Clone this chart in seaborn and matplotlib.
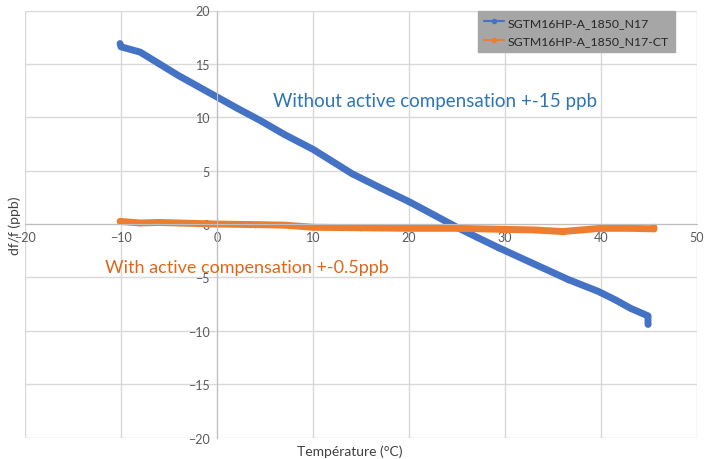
import pandas as pd
import matplotlib
matplotlib.use("Agg")
import matplotlib.pyplot as plt
import seaborn as sns

# Series
temp_ref = [-10.1, -10.0, -8.0, -6.0, -4.0, -2.0, 0.0, 2.0, 4.5, 7.0, 10.0, 14.1, 17.0,
            20.0, 22.5, 25.2, 27.0, 29.3, 32.7, 36.6, 39.7, 41.5, 43.1, 44.9, 44.9]
dff_ref = [16.9, 16.6, 16.1, 15.0, 13.9, 12.9, 11.9, 10.9, 9.7, 8.4, 7.0, 4.7, 3.4,
           2.1, 0.9, -0.4, -1.2, -2.2, -3.6, -5.2, -6.3, -7.1, -7.9, -8.6, -9.4]

temp_ct = [-10.1, -8.0, -6.0, -4.0, -2.0, 0.0, 4.0, 7.0, 10.0, 15.0, 20.0, 25.0,
           30.0, 33.0, 36.0, 38.0, 40.0, 43.0, 45.5, 45.5]
dff_ct = [0.25, 0.1, 0.15, 0.1, 0.05, 0.0, -0.05, -0.1, -0.3, -0.35, -0.4, -0.4,
          -0.5, -0.55, -0.7, -0.55, -0.4, -0.4, -0.45, -0.3]

series_names = ["SGTM16HP-A_1850_N17", "SGTM16HP-A_1850_N17-CT"]
palette = ["#4472c4", "#ed7d31"]

df = pd.concat([
    pd.DataFrame({"temp": temp_ref, "dff": dff_ref, "series": series_names[0]}),
    pd.DataFrame({"temp": temp_ct, "dff": dff_ct, "series": series_names[1]}),
], ignore_index=True)

sns.set_style("white")
plt.rcParams["font.family"] = ["Lato", "DejaVu Sans"]

fig = plt.figure(figsize=(7.04, 4.60), dpi=100)
ax = fig.add_axes([0.0355, 0.0465, 0.9545, 0.9285])

sns.lineplot(data=df, x="temp", y="dff", hue="series", palette=palette,
             estimator=None, sort=False, linewidth=5, marker="o",
             markersize=4, markeredgewidth=0, ax=ax)

ax.set_xlim(-20, 50)
ax.set_ylim(-20, 20)
ax.set_xticks(range(-20, 51, 10))
ax.set_yticks(range(-20, 21, 5))
ax.grid(True, color="#d9d9d9", linewidth=1)
ax.set_axisbelow(True)

# axes cross at zero like the spreadsheet chart
ax.spines["left"].set_position(("data", 0))
ax.spines["bottom"].set_position(("data", 0))
ax.spines["left"].set_color("#bfbfbf")
ax.spines["bottom"].set_color("#bfbfbf")
ax.spines["top"].set_visible(False)
ax.spines["right"].set_visible(False)
ax.tick_params(axis="y", length=4, color="#bfbfbf", labelsize=9,
               labelcolor="#595959", pad=1)
ax.tick_params(axis="x", length=0, labelsize=9, labelcolor="#595959", pad=5)

ax.set_xlabel("")
ax.set_ylabel("")
fig.text(0.497, 0.017, "Température (°C)", ha="center", va="center",
         fontsize=10, color="#404040")
fig.text(0.021, 0.51, "df/f (ppb)", ha="center", va="center", rotation=90,
         fontsize=10, color="#404040")

ax.text(5.8, 11.6, "Without active compensation +-15 ppb", color="#2e75b6",
        fontsize=13.5, va="center")
ax.text(-11.7, -4.0, "With active compensation +-0.5ppb", color="#e0661c",
        fontsize=13, va="center")

leg = ax.legend(loc="upper right", bbox_to_anchor=(0.967, 1.0), fontsize=8.8,
                frameon=True, fancybox=False, framealpha=1, borderpad=0.5,
                handlelength=1.6, handletextpad=0.3, labelspacing=0.6,
                borderaxespad=0)
leg.get_frame().set_facecolor("#a6a6a6")
leg.get_frame().set_edgecolor("#a6a6a6")
for t in leg.get_texts():
    t.set_color("#262626")
for h in leg.get_lines():
    h.set_linewidth(1.5)
    h.set_markersize(4)

fig.savefig("out.png", dpi=100)
